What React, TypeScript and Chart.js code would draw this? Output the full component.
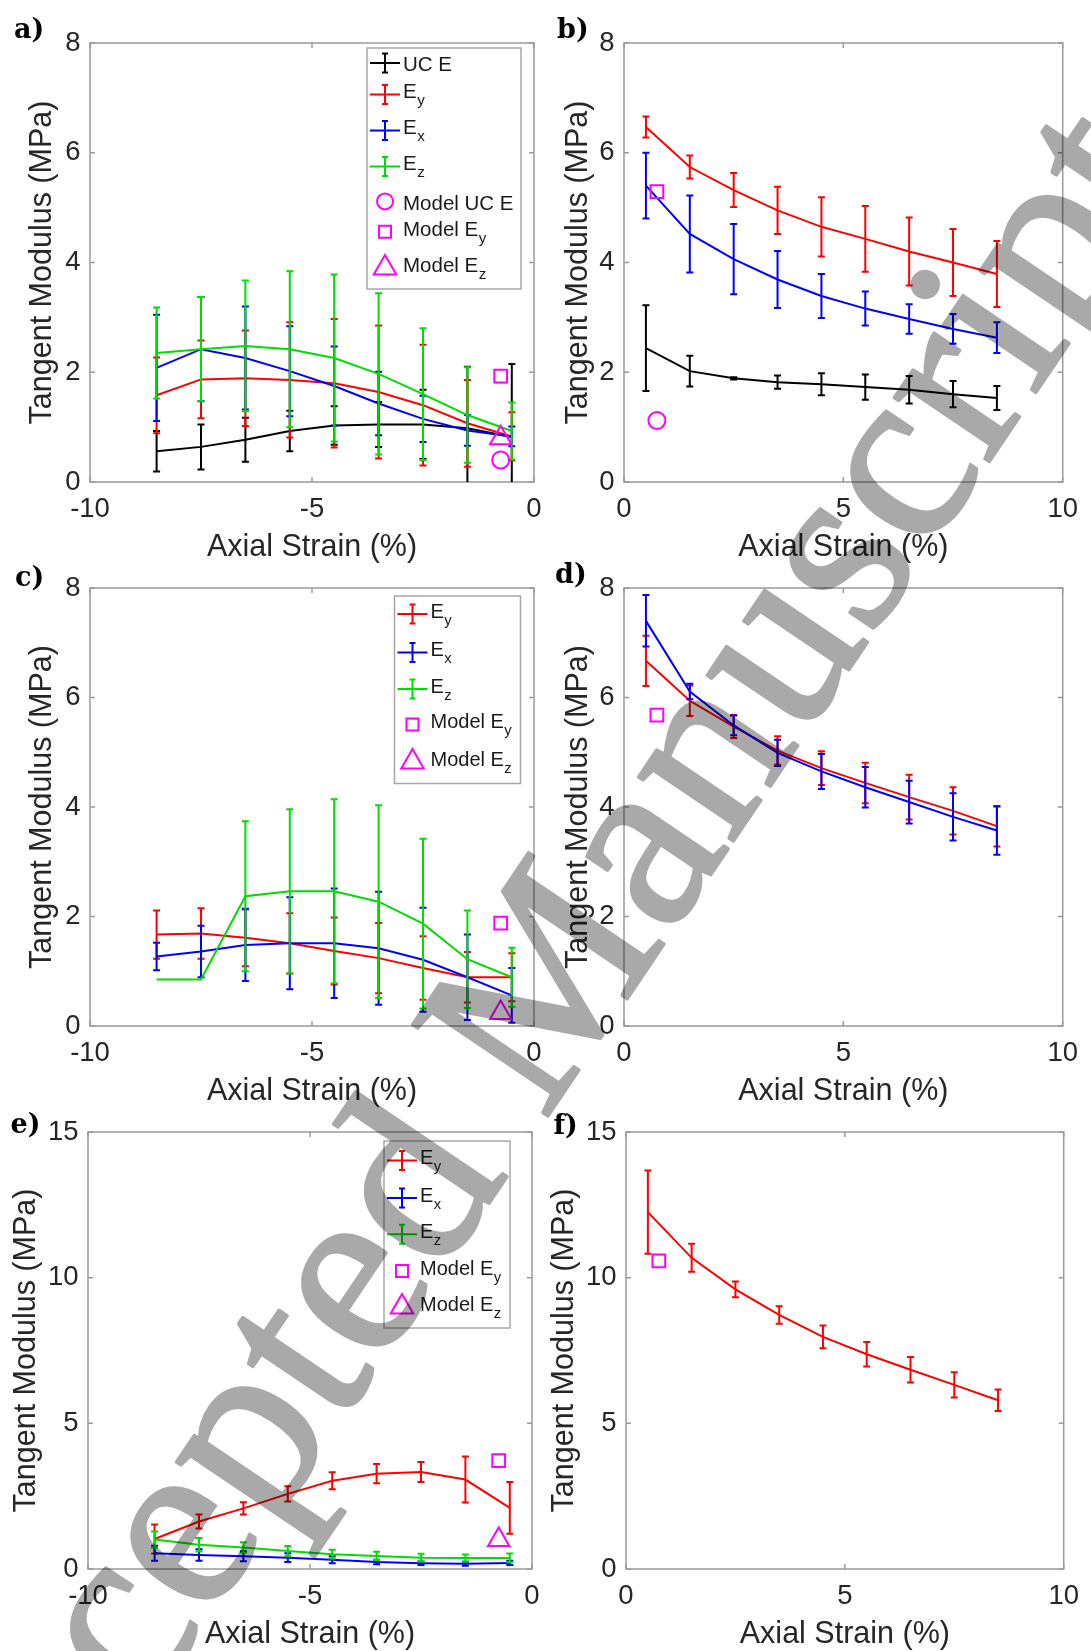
import React, { useEffect, useRef } from 'react';
import { Chart, registerables } from 'chart.js';

Chart.register(...registerables);

// ---------------- data ----------------
const strainCompression = [-8.5, -7.5, -6.5, -5.5, -4.5, -3.5, -2.5, -1.5, -0.5];
const strainTension = [0.5, 1.5, 2.5, 3.5, 4.5, 5.5, 6.5, 7.5, 8.5];
const modelStrainCompression = -0.75;
const modelStrainTension = 0.75;

const xTicksCompression = [-10, -5, 0];
const xTicksTension = [0, 5, 10];
const yTicksLow = [0, 2, 4, 6, 8];
const yTicksHigh = [0, 5, 10, 15];

// a) compression
const aUcE = [0.56, 0.64, 0.77, 0.93, 1.03, 1.05, 1.05, 0.98, 0.82];
const aUcEErr = [0.37, 0.41, 0.40, 0.37, 0.35, 0.41, 0.63, 1.12, 1.33];
const aEy = [1.58, 1.87, 1.89, 1.86, 1.80, 1.64, 1.40, 1.07, 0.83];
const aEyErr = [0.69, 0.71, 0.87, 1.05, 1.17, 1.21, 1.10, 0.79, 0.44];
const aEx = [2.08, 2.42, 2.26, 2.02, 1.75, 1.43, 1.15, 0.94, 0.83];
const aExErr = [0.97, 0.95, 0.94, 0.82, 0.72, 0.58, 0.42, 0.28, 0.18];
const aEz = [2.35, 2.42, 2.48, 2.42, 2.26, 1.97, 1.60, 1.22, 0.93];
const aEzErr = [0.83, 0.95, 1.19, 1.42, 1.52, 1.47, 1.20, 0.87, 0.52];
const aModelUcE = 0.40;
const aModelEy = 1.93;
const aModelEz = 0.80;

// b) tension
const bUcE = [2.44, 2.02, 1.89, 1.82, 1.78, 1.73, 1.68, 1.60, 1.53];
const bUcEErr = [0.78, 0.28, 0.02, 0.12, 0.20, 0.23, 0.25, 0.24, 0.22];
const bEy = [6.47, 5.74, 5.32, 4.95, 4.65, 4.43, 4.20, 4.00, 3.79];
const bEyErr = [0.19, 0.21, 0.31, 0.43, 0.54, 0.60, 0.62, 0.61, 0.60];
const bEx = [5.40, 4.52, 4.06, 3.69, 3.39, 3.16, 2.97, 2.79, 2.63];
const bExErr = [0.60, 0.70, 0.64, 0.52, 0.40, 0.31, 0.27, 0.27, 0.28];
const bModelEy = 5.29;
const bModelUcE = 1.12;

// c) compression
const cEy = [1.67, 1.69, 1.61, 1.51, 1.37, 1.24, 1.06, 0.89, 0.89];
const cEyErr = [0.44, 0.46, 0.52, 0.55, 0.61, 0.64, 0.58, 0.46, 0.44];
const cEx = [1.27, 1.36, 1.48, 1.51, 1.51, 1.42, 1.21, 0.89, 0.56];
const cExErr = [0.25, 0.47, 0.66, 0.84, 1.00, 1.03, 0.95, 0.78, 0.50];
const cEz = [0.85, 0.85, 2.37, 2.46, 2.46, 2.27, 1.87, 1.22, 0.89];
const cEzErr = [0, 0, 1.37, 1.50, 1.68, 1.76, 1.55, 0.89, 0.54];
const cModelEy = 1.88;
const cModelEz = 0.24;

// d) tension
const dEy = [6.67, 5.94, 5.47, 5.03, 4.71, 4.44, 4.18, 3.93, 3.65];
const dEyErr = [0.46, 0.28, 0.21, 0.26, 0.31, 0.37, 0.41, 0.43, 0.37];
const dEx = [7.40, 6.11, 5.49, 4.99, 4.65, 4.36, 4.09, 3.82, 3.57];
const dExErr = [0.47, 0.14, 0.18, 0.24, 0.32, 0.37, 0.39, 0.43, 0.44];
const dModelEy = 5.68;

// e) compression
const eEy = [1.03, 1.63, 2.08, 2.58, 3.03, 3.27, 3.33, 3.07, 2.10];
const eEyErr = [0.50, 0.24, 0.21, 0.26, 0.29, 0.33, 0.34, 0.79, 0.89];
const eEx = [0.54, 0.48, 0.44, 0.39, 0.32, 0.24, 0.20, 0.18, 0.21];
const eExErr = [0.26, 0.20, 0.17, 0.15, 0.12, 0.08, 0.06, 0.07, 0.07];
const eEz = [1.01, 0.83, 0.74, 0.62, 0.51, 0.45, 0.39, 0.38, 0.38];
const eEzErr = [0.28, 0.23, 0.18, 0.17, 0.15, 0.14, 0.13, 0.12, 0.15];
const eModelEy = 3.72;
const eModelEz = 1.0;

// f) tension
const fEy = [12.25, 10.68, 9.60, 8.72, 7.97, 7.37, 6.84, 6.32, 5.79];
const fEyErr = [1.43, 0.48, 0.27, 0.30, 0.39, 0.42, 0.44, 0.43, 0.37];
const fModelEy = 10.58;

// ---------------- styles ----------------
const SANS = '"Liberation Sans", Arial, Helvetica, sans-serif';
const TEXT = '#262626';
const BLACK = '#000000';
const RED = '#ff0000';
const BLUE = '#0000ff';
const GREEN = '#00dd00';
const MAGENTA = '#ff00ff';
const BOX = '#9a9a9a';

type Series = { color: string; xs: number[]; values: number[]; errors: number[] };
type Model = { style: 'circle' | 'rect' | 'triangle'; x: number; value: number };
type LegendRow = { kind: 'err' | 'circle' | 'rect' | 'triangle'; color?: string; main: string; sub?: string; dy: number };
type LegendCfg = { x: number; y: number; w: number; h: number; font: number; rows: LegendRow[] };

type PanelSpec = {
  label: string; labelX: number; labelY: number;
  left: number; top: number; w: number; h: number;
  xMin: number; xMax: number; yMax: number;
  xTicks: number[]; yTicks: number[];
  yTitlePad: number;
  series: Series[]; models: Model[];
  legend?: LegendCfg;
};

const PAD_TOP = 20, PAD_RIGHT = 20, Y_AXIS_W = 90, X_AXIS_H = 90;

const errRow = (color: string, main: string, sub: string | undefined, dy: number): LegendRow => ({ kind: 'err', color, main, sub, dy });

const panels: PanelSpec[] = [
  {
    label: 'a)', labelX: 14, labelY: 38,
    left: 90, top: 37, w: 444, h: 445, xMin: -10, xMax: 0, yMax: 8,
    xTicks: xTicksCompression, yTicks: yTicksLow, yTitlePad: 24.7,
    series: [
      { color: BLACK, xs: strainCompression, values: aUcE, errors: aUcEErr },
      { color: RED, xs: strainCompression, values: aEy, errors: aEyErr },
      { color: BLUE, xs: strainCompression, values: aEx, errors: aExErr },
      { color: GREEN, xs: strainCompression, values: aEz, errors: aEzErr },
    ],
    models: [
      { style: 'circle', x: modelStrainCompression, value: aModelUcE },
      { style: 'rect', x: modelStrainCompression, value: aModelEy },
      { style: 'triangle', x: modelStrainCompression, value: aModelEz },
    ],
    legend: {
      x: 277, y: 5, w: 154, h: 241, font: 20.5,
      rows: [
        errRow(BLACK, 'UC E', undefined, 15),
        errRow(RED, 'E', 'y', 46.5),
        errRow(BLUE, 'E', 'x', 82.5),
        errRow(GREEN, 'E', 'z', 118.5),
        { kind: 'circle', main: 'Model UC E', dy: 153.4 },
        { kind: 'rect', main: 'Model E', sub: 'y', dy: 183.7 },
        { kind: 'triangle', main: 'Model E', sub: 'z', dy: 220 },
      ],
    },
  },
  {
    label: 'b)', labelX: 557, labelY: 37.5,
    left: 624, top: 37, w: 445, h: 445, xMin: 0, xMax: 10, yMax: 8,
    xTicks: xTicksTension, yTicks: yTicksLow, yTitlePad: 26,
    series: [
      { color: BLACK, xs: strainTension, values: bUcE, errors: bUcEErr },
      { color: RED, xs: strainTension, values: bEy, errors: bEyErr },
      { color: BLUE, xs: strainTension, values: bEx, errors: bExErr },
    ],
    models: [
      { style: 'circle', x: modelStrainTension, value: bModelUcE },
      { style: 'rect', x: modelStrainTension, value: bModelEy },
    ],
  },
  {
    label: 'c)', labelX: 15, labelY: 586,
    left: 90, top: 582, w: 444, h: 444, xMin: -10, xMax: 0, yMax: 8,
    xTicks: xTicksCompression, yTicks: yTicksLow, yTitlePad: 24.7,
    series: [
      { color: RED, xs: strainCompression, values: cEy, errors: cEyErr },
      { color: BLUE, xs: strainCompression, values: cEx, errors: cExErr },
      { color: GREEN, xs: strainCompression, values: cEz, errors: cEzErr },
    ],
    models: [
      { style: 'rect', x: modelStrainCompression, value: cModelEy },
      { style: 'triangle', x: modelStrainCompression, value: cModelEz },
    ],
    legend: {
      x: 304.5, y: 8, w: 126, h: 187.5, font: 20,
      rows: [
        errRow(RED, 'E', 'y', 17.9),
        errRow(BLUE, 'E', 'x', 56.4),
        errRow(GREEN, 'E', 'z', 92.9),
        { kind: 'rect', main: 'Model E', sub: 'y', dy: 128.6 },
        { kind: 'triangle', main: 'Model E', sub: 'z', dy: 166 },
      ],
    },
  },
  {
    label: 'd)', labelX: 555, labelY: 583,
    left: 624, top: 582, w: 445, h: 444, xMin: 0, xMax: 10, yMax: 8,
    xTicks: xTicksTension, yTicks: yTicksLow, yTitlePad: 26,
    series: [
      { color: RED, xs: strainTension, values: dEy, errors: dEyErr },
      { color: BLUE, xs: strainTension, values: dEx, errors: dExErr },
    ],
    models: [{ style: 'rect', x: modelStrainTension, value: dModelEy }],
  },
  {
    label: 'e)', labelX: 10.5, labelY: 1133,
    left: 88, top: 1126, w: 444, h: 443, xMin: -10, xMax: 0, yMax: 15,
    xTicks: xTicksCompression, yTicks: yTicksHigh, yTitlePad: 10.3,
    series: [
      { color: RED, xs: strainCompression, values: eEy, errors: eEyErr },
      { color: BLUE, xs: strainCompression, values: eEx, errors: eExErr },
      { color: GREEN, xs: strainCompression, values: eEz, errors: eEzErr },
    ],
    models: [
      { style: 'rect', x: modelStrainCompression, value: eModelEy },
      { style: 'triangle', x: modelStrainCompression, value: eModelEz },
    ],
    legend: {
      x: 296, y: 9, w: 126, h: 187, font: 20,
      rows: [
        errRow(RED, 'E', 'y', 19.5),
        errRow(BLUE, 'E', 'x', 57),
        errRow(GREEN, 'E', 'z', 93.2),
        { kind: 'rect', main: 'Model E', sub: 'y', dy: 130.1 },
        { kind: 'triangle', main: 'Model E', sub: 'z', dy: 166 },
      ],
    },
  },
  {
    label: 'f)', labelX: 553.5, labelY: 1134,
    left: 626, top: 1126, w: 444, h: 443, xMin: 0, xMax: 10, yMax: 15,
    xTicks: xTicksTension, yTicks: yTicksHigh, yTitlePad: 10.3,
    series: [{ color: RED, xs: strainTension, values: fEy, errors: fEyErr }],
    models: [{ style: 'rect', x: modelStrainTension, value: fModelEy }],
  },
];

// ---------------- plugins ----------------
const framePlugin = {
  id: 'frame',
  beforeDatasetsDraw(chart: any) {
    const { ctx, chartArea: a, scales } = chart;
    const x = scales.x, y = scales.y;
    ctx.save();
    ctx.strokeStyle = BOX;
    ctx.lineWidth = 1.5;
    ctx.strokeRect(a.left, a.top, a.right - a.left, a.bottom - a.top);
    ctx.beginPath();
    const tl = 5;
    x.ticks.forEach((t: any) => {
      const px = x.getPixelForValue(t.value);
      ctx.moveTo(px, a.bottom); ctx.lineTo(px, a.bottom - tl);
      ctx.moveTo(px, a.top); ctx.lineTo(px, a.top + tl);
    });
    y.ticks.forEach((t: any) => {
      const py = y.getPixelForValue(t.value);
      ctx.moveTo(a.left, py); ctx.lineTo(a.left + tl, py);
      ctx.moveTo(a.right, py); ctx.lineTo(a.right - tl, py);
    });
    ctx.stroke();
    ctx.restore();
  },
};

const errorBarPlugin = {
  id: 'errorBars',
  afterDatasetDraw(chart: any, args: any) {
    const ds = chart.data.datasets[args.index];
    if (!ds || !ds.errors) return;
    const { ctx, chartArea: a, scales } = chart;
    const xs = scales.x, ys = scales.y;
    const cap = 3.5;
    ctx.save();
    ctx.beginPath();
    ctx.rect(a.left, a.top, a.right - a.left, a.bottom - a.top);
    ctx.clip();
    ctx.strokeStyle = ds.borderColor;
    ctx.lineWidth = 2;
    ctx.beginPath();
    ds.data.forEach((p: any, i: number) => {
      const e = ds.errors[i];
      if (!e) return;
      const px = xs.getPixelForValue(p.x);
      const y1 = ys.getPixelForValue(p.y - e);
      const y2 = ys.getPixelForValue(p.y + e);
      ctx.moveTo(px, y1); ctx.lineTo(px, y2);
      ctx.moveTo(px - cap, y1); ctx.lineTo(px + cap, y1);
      ctx.moveTo(px - cap, y2); ctx.lineTo(px + cap, y2);
    });
    ctx.stroke();
    ctx.restore();
  },
};

function makeLegendPlugin(cfg: LegendCfg) {
  return {
    id: 'customLegend',
    afterDraw(chart: any) {
      const { ctx, chartArea } = chart;
      const bx = chartArea.left + cfg.x, by = chartArea.top + cfg.y;
      ctx.save();
      ctx.fillStyle = '#ffffff';
      ctx.fillRect(bx, by, cfg.w, cfg.h);
      ctx.strokeStyle = '#a8a8a8';
      ctx.lineWidth = 1.5;
      ctx.strokeRect(bx, by, cfg.w, cfg.h);
      cfg.rows.forEach((row) => {
        const cy = by + row.dy;
        const ix = bx + 18;
        ctx.lineWidth = 2;
        ctx.beginPath();
        if (row.kind === 'err') {
          ctx.strokeStyle = row.color;
          ctx.moveTo(bx + 3, cy); ctx.lineTo(bx + 33, cy);
          ctx.moveTo(ix, cy - 9.5); ctx.lineTo(ix, cy + 9.5);
          ctx.moveTo(ix - 3, cy - 9.5); ctx.lineTo(ix + 3, cy - 9.5);
          ctx.moveTo(ix - 3, cy + 9.5); ctx.lineTo(ix + 3, cy + 9.5);
        } else {
          ctx.strokeStyle = MAGENTA;
          if (row.kind === 'circle') {
            ctx.arc(ix, cy, 8, 0, Math.PI * 2);
          } else if (row.kind === 'rect') {
            ctx.rect(ix - 6, cy - 6, 12, 12);
          } else {
            const r = 13;
            ctx.moveTo(ix, cy - r);
            ctx.lineTo(ix + r * 0.866, cy + r / 2);
            ctx.lineTo(ix - r * 0.866, cy + r / 2);
            ctx.closePath();
          }
        }
        ctx.stroke();
        const capMid = cy + (row.sub ? -3.5 : 1);
        const base = capMid + 0.358 * cfg.font;
        ctx.fillStyle = '#1a1a1a';
        ctx.textAlign = 'left';
        ctx.textBaseline = 'alphabetic';
        ctx.font = `${cfg.font}px ${SANS}`;
        ctx.fillText(row.main, bx + 36, base);
        if (row.sub) {
          const w = ctx.measureText(row.main).width;
          ctx.font = `${cfg.font * 0.74}px ${SANS}`;
          ctx.fillText(row.sub, bx + 36 + w + 0.5, base + 7);
        }
      });
      ctx.restore();
    },
  };
}

function buildConfig(p: PanelSpec): any {
  const n = p.series.length;
  const datasets: any[] = p.series.map((s, k) => ({
    data: s.xs.map((x, i) => ({ x, y: s.values[i] })),
    errors: s.errors,
    showLine: true,
    borderColor: s.color,
    backgroundColor: s.color,
    borderWidth: 2,
    pointRadius: 0,
    pointHoverRadius: 0,
    tension: 0,
    order: n - k + 1,
  }));
  p.models.forEach((m) => {
    datasets.push({
      data: [{ x: m.x, y: m.value }],
      showLine: false,
      pointStyle: m.style,
      pointRadius: m.style === 'circle' ? 8.5 : m.style === 'rect' ? 9 : 12.3,
      pointHoverRadius: 0,
      pointBorderWidth: 2,
      borderWidth: 2,
      borderColor: MAGENTA,
      pointBorderColor: MAGENTA,
      backgroundColor: 'rgba(0,0,0,0)',
      pointBackgroundColor: 'rgba(0,0,0,0)',
      order: 0,
    });
  });
  const plugins: any[] = [framePlugin, errorBarPlugin];
  if (p.legend) plugins.push(makeLegendPlugin(p.legend));
  return {
    type: 'scatter',
    data: { datasets },
    options: {
      responsive: false,
      animation: false,
      events: [],
      devicePixelRatio: 1,
      layout: { padding: { top: PAD_TOP, right: PAD_RIGHT, left: 0, bottom: 0 } },
      plugins: { legend: { display: false }, tooltip: { enabled: false } },
      scales: {
        x: {
          type: 'linear', position: 'bottom', min: p.xMin, max: p.xMax,
          grid: { display: false, drawTicks: false },
          border: { display: false },
          ticks: {
            padding: 11, color: TEXT, font: { family: SANS, size: 27.5 },
            maxRotation: 0, autoSkip: false, callback: (v: number) => String(v),
          },
          afterBuildTicks: (s: any) => { s.ticks = p.xTicks.map((v) => ({ value: v })); },
          afterFit: (s: any) => { s.height = X_AXIS_H; },
          title: {
            display: true, text: 'Axial Strain (%)', color: TEXT,
            font: { family: SANS, size: 30.5 }, padding: { top: 0, bottom: 6.2 },
          },
        },
        y: {
          type: 'linear', position: 'left', min: 0, max: p.yMax,
          grid: { display: false, drawTicks: false },
          border: { display: false },
          ticks: {
            padding: 9.5, color: TEXT, font: { family: SANS, size: 27.5 },
            autoSkip: false, callback: (v: number) => String(v),
          },
          afterBuildTicks: (s: any) => { s.ticks = p.yTicks.map((v) => ({ value: v })); },
          afterFit: (s: any) => { s.width = Y_AXIS_W; },
          title: {
            display: true, text: 'Tangent Modulus (MPa)', color: TEXT,
            font: { family: SANS, size: 30.5 }, padding: { top: p.yTitlePad, bottom: 0 },
          },
        },
      },
    },
    plugins,
  };
}

function Panel({ spec }: { spec: PanelSpec }) {
  const ref = useRef<HTMLCanvasElement>(null);
  const cw = Y_AXIS_W + spec.w + PAD_RIGHT;
  const ch = PAD_TOP + spec.h + X_AXIS_H;
  useEffect(() => {
    const chart = new Chart(ref.current as HTMLCanvasElement, buildConfig(spec));
    return () => chart.destroy();
  }, []);
  return (
    <canvas
      ref={ref}
      width={cw}
      height={ch}
      style={{
        position: 'absolute',
        left: spec.left - Y_AXIS_W,
        top: spec.top - PAD_TOP,
        width: cw,
        height: ch,
      }}
    />
  );
}

// watermark geometry
const WM_ANGLE = 56;
const WM_SIZE = 250;
const WM_X = -18.8;
const WM_Y = 1956.5;

export default function App() {
  return (
    <div
      style={{
        position: 'absolute', left: 0, top: 0, width: 1091, height: 1651,
        overflow: 'hidden', background: '#ffffff',
      }}
    >
      {panels.map((p) => (
        <Panel key={p.label} spec={p} />
      ))}
      <svg
        width={1091}
        height={1651}
        style={{ position: 'absolute', left: 0, top: 0, pointerEvents: 'none', mixBlendMode: 'multiply' }}
      >
        {panels.map((p) => (
          <text
            key={p.label}
            x={p.labelX}
            y={p.labelY}
            fontFamily='"DejaVu Serif", "Liberation Serif", serif'
            fontWeight="bold"
            fontSize={27}
            fill="#000"
          >
            {p.label}
          </text>
        ))}
        <text
          x={WM_X}
          y={WM_Y}
          transform={`rotate(${-WM_ANGLE} ${WM_X} ${WM_Y})`}
          fontFamily='"Liberation Serif", "Times New Roman", serif'
          fontSize={WM_SIZE}
          fill="#a9a9a9"
          stroke="#a9a9a9"
          strokeWidth={3}
          strokeLinejoin="round"
        >
          Accepted Manuscript
        </text>
      </svg>
    </div>
  );
}
